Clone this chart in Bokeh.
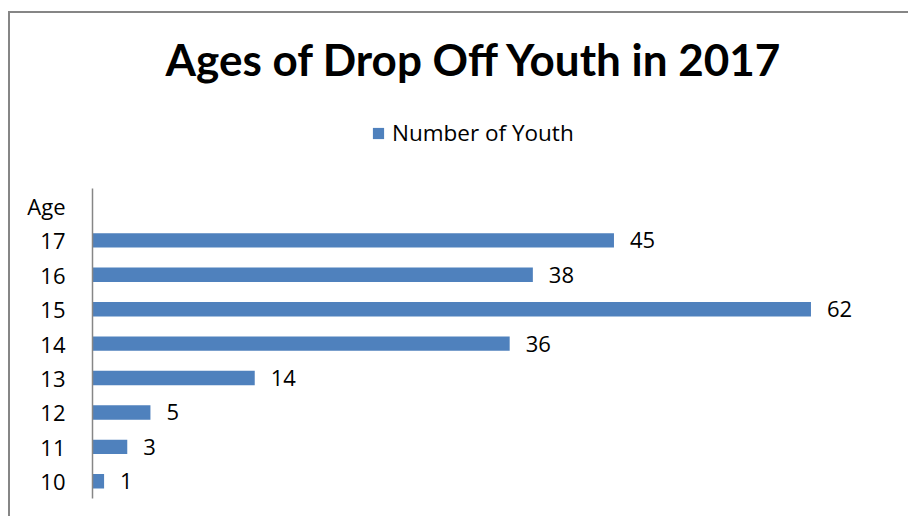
from bokeh.plotting import figure
from bokeh.models import ColumnDataSource, Range1d, FactorRange, Legend, LegendItem, Title
from bokeh.core.properties import value
from bokeh.embed import file_html
from bokeh.resources import INLINE

ages = ["10", "11", "12", "13", "14", "15", "16", "17"]
counts = [1, 3, 5, 14, 36, 62, 38, 45]
axis_header = "Age"
spacer_factors = [" ", "  ", "   "]
factors = ages + [axis_header] + spacer_factors
title_text = "Ages of Drop Off Youth in 2017"
series_name = "Number of Youth"

FONT = "Open Sans"
TFONT = "Lato"
BLUE = "#4F81BD"

src = ColumnDataSource(dict(age=ages, count=counts, label=[str(c) for c in counts]))

p = figure(width=900, height=505, output_backend="svg", toolbar_location=None,
           y_range=FactorRange(factors=factors, range_padding=0),
           x_range=Range1d(0, 68),
           min_border_left=82, min_border_right=30, min_border_bottom=20, min_border_top=72)
p.styles = {"margin-left": "8px", "margin-top": "11px",
            "border-left": "2px solid #868686", "border-top": "2px solid #868686"}

r = p.hbar(y="age", right="count", height=0.42, left=0, source=src, fill_color=BLUE, line_color=None)
p.text(x="count", y="age", text="label", source=src, x_offset=16, text_baseline="middle",
       text_align="left", text_font=value(FONT), text_font_size="22px", text_color="#000000")

p.xaxis.visible = False
p.xgrid.visible = False
p.ygrid.visible = False
p.outline_line_color = None
ya = p.yaxis[0]
ya.bounds = (0, len(ages) + 1)
ya.axis_line_color = "#868686"
ya.axis_line_width = 1.5
ya.major_tick_line_color = None
ya.minor_tick_line_color = None
ya.major_label_standoff = 21
ya.major_label_text_font = FONT
ya.major_label_text_font_size = "22px"
ya.major_label_text_color = "#000000"

legend = Legend(items=[LegendItem(label=series_name, renderers=[r])], orientation="horizontal",
                location=(279, 350), label_text_font=FONT, label_text_font_size="22.5px",
                label_text_color="#000000", glyph_width=14, glyph_height=14, border_line_color=None,
                padding=0, margin=0, label_standoff=7, background_fill_alpha=0)
p.add_layout(legend)
p.title = Title(text=title_text, align="left", text_font=TFONT, text_font_size="44px",
                text_font_style="bold", text_color="#000000", standoff=2, offset=73)

open("out.html", "w").write(file_html(p, INLINE))
